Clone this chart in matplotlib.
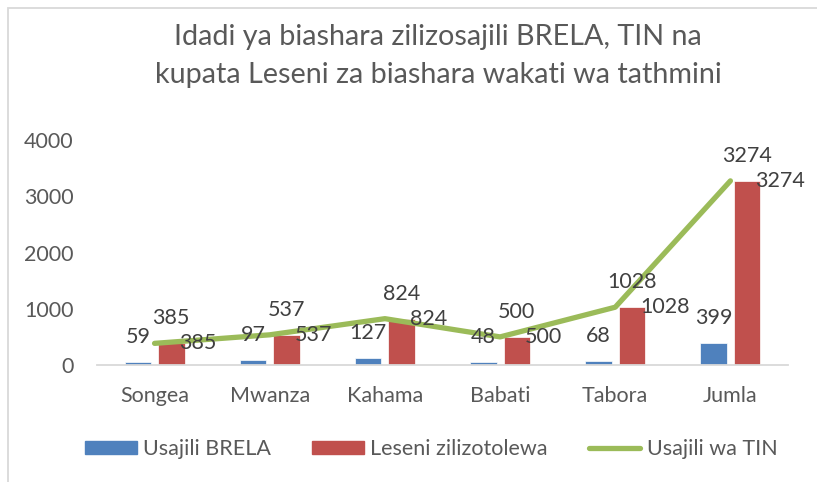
import matplotlib
matplotlib.use("Agg")
import matplotlib.pyplot as plt
import matplotlib.patches as mpatches
from matplotlib.lines import Line2D
import numpy as np

plt.rcParams['font.family'] = ['Lato', 'DejaVu Sans']

# data
categories = ["Songea", "Mwanza", "Kahama", "Babati", "Tabora", "Jumla"]
brela = [59, 97, 127, 48, 68, 399]
leseni = [385, 537, 824, 500, 1028, 3274]
tin = [385, 537, 824, 500, 1028, 3274]

BLUE = "#4F81BD"
RED = "#C0504D"
GREEN = "#9BBB59"
TXT = "#595959"
LBL = "#404040"
FS = 15.5

fig = plt.figure(figsize=(8.17, 4.82), dpi=100)
ax = fig.add_axes([0.1187, 0.2427, 0.8458, 0.4668])

x = np.arange(len(categories))
w = 0.23
off = 0.145

ax.bar(x - off, brela, w, color=BLUE, edgecolor="white", linewidth=0.5)
ax.bar(x + off, leseni, w, color=RED, edgecolor="white", linewidth=0.5)
ax.plot(x, tin, color=GREEN, linewidth=3.8, solid_capstyle="round", zorder=3)

# bar labels sit above the bars
for xi, v in zip(x - off, brela):
    ax.annotate(str(v), (xi, v), xytext=(0, 18), textcoords="offset points",
                ha="center", va="center", fontsize=FS, color=LBL)
for xi, v in zip(x + off, leseni):
    ax.annotate(str(v), (xi, v), xytext=(0, 18), textcoords="offset points",
                ha="center", va="center", fontsize=FS, color=LBL)
# line labels to the right of the points
for xi, v in zip(x, tin):
    ax.annotate(str(v), (xi, v), xytext=(18, 0), textcoords="offset points",
                ha="left", va="center", fontsize=FS, color=LBL, zorder=4)

ax.set_xlim(-0.5, len(categories) - 0.5)
ax.set_ylim(0, 4000)
ax.set_yticks([0, 1000, 2000, 3000, 4000])
ax.set_xticks(x)
ax.set_xticklabels(categories)
ax.tick_params(axis="both", length=0, labelsize=FS, colors=TXT)
ax.tick_params(axis="y", pad=17)
ax.tick_params(axis="x", pad=15)

for s in ["top", "right", "left"]:
    ax.spines[s].set_visible(False)
ax.spines["bottom"].set_color("#D9D9D9")
ax.spines["bottom"].set_linewidth(1.3)

fig.text(0.536, 1 - 37 / 482, "Idadi ya biashara zilizosajili BRELA, TIN na",
         ha="center", va="center", fontsize=20.7, color=TXT)
fig.text(0.536, 1 - 75 / 482, "kupata Leseni za biashara wakati wa tathmini",
         ha="center", va="center", fontsize=20.7, color=TXT)

handles = [mpatches.Patch(color=BLUE), mpatches.Patch(color=RED),
           Line2D([0], [0], color=GREEN, linewidth=3.8, solid_capstyle="round")]
labels = ["Usajili BRELA", "Leseni zilizotolewa", "Usajili wa TIN"]
leg = fig.legend(handles, labels, loc="center", bbox_to_anchor=(0.528, 1 - 449 / 482),
                 ncol=3, frameon=False, fontsize=FS, handlelength=2.4,
                 handleheight=0.6, handletextpad=0.3, columnspacing=1.9)
for t in leg.get_texts():
    t.set_color(TXT)

# chart border (light gray, partly off the image)
fig.patches.append(mpatches.Rectangle((8 / 817, -0.05), 1.0, 1 - 8 / 482 + 0.05,
                                      transform=fig.transFigure, fill=False,
                                      edgecolor="#D9D9D9", linewidth=1.3))

fig.savefig("out.png", dpi=100)
